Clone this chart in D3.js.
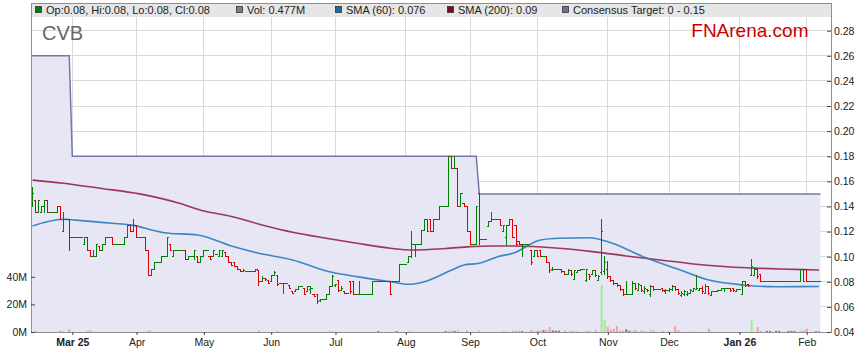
<!DOCTYPE html>
<html>
<head>
<meta charset="utf-8">
<script src="https://cdn.jsdelivr.net/npm/d3@7"></script>
<style>
  body { margin: 0; background: #fff; }
  svg { display: block; font-family: "Liberation Sans", Arial, sans-serif; }
</style>
</head>
<body>
<svg id="chart" width="859" height="363"></svg>
<script>
const firstDay = "2025-02-12";
const lastDay = "2026-02-06";

// one row per weekday, cents: [open, high, low, close]; a plain number = no trade (flat)
const bars = [
  [14,15.5,14,15],[14.5,14.5,13.5,13.5],[13.5,14.5,13.5,14.5],[13.5,14,13.5,14],[14,14.5,13.5,14.5],[14.5,14.5,13.5,13.5],13.5,13.5,[13.5,14,13.5,14],[14,14,13,13],
  [12,13.5,12,13],13,[13,13,10.5,11.5],11.5,11.5,11.5,11.5,[11,11.5,11,11.5],[11.5,11.5,10.5,10.5],[10.5,10.5,10,10],
  [10,10.5,10,10],[10,11,10,11],[10.8,10.8,10.5,10.5],[10.5,11,10.5,11],[11,11.5,11,11.5],11.5,[11.5,11.5,11,11],11,11,11,
  [11,11.5,11,11.5],[11.5,12.5,11.5,12.5],[12.5,12.5,12,12],[12,13,12,12.5],[12.5,12.5,11.5,11.5],11.5,11.5,[11.5,11.5,10.5,10.5],[10.5,10.5,8.5,8.5],[8.5,9,8.5,9],
  [9,9.5,9,9.5],9.5,[9.5,10,9.5,10],10,[10,11.5,10,11.5],[11,11,10.5,10.5],[10,10.5,10,10.5],10.5,10.5,10.5,
  [10.5,10.5,9.8,9.8],[9.8,10,9.8,10],10,[10,10.5,9.8,10.5],[10,10,9.5,9.5],[9.5,10,9.5,10],[10,10.5,10,10.5],10.5,[10,10,9.8,9.8],[10,10.5,10,10.5],
  10.2,[10,10.5,10,10.5],[10,10.5,10,10.5],[10.3,10.3,10,10],[10,10,9.5,9.5],[9.5,9.5,9.3,9.3],[9.5,9.5,9.2,9.2],[9.2,9.2,9,9],[9,9,8.8,8.8],[8.8,9,8.8,8.9],
  8.8,8.8,8.8,[8.8,9,8.8,9],[8.9,8.9,7.7,8],[8,8.4,8,8.3],[8.3,8.3,8.1,8.2],[8.1,8.1,7.9,7.9],[8,8.5,8,8.5],[8.5,8.8,8.5,8.7],
  [8.5,8.5,7.7,7.8],7.9,[7.9,7.9,7.1,7.9],7.9,[7.7,7.7,7.5,7.5],[7.2,7.2,7.1,7.1],[7.2,7.4,7.2,7.4],[7.4,7.6,7.4,7.6],7.6,[7.5,7.5,7,7],
  [7.2,7.6,7.2,7.6],[7.4,7.6,7.1,7.5],[7,7,6.8,6.8],[7,7,6.3,6.4],[6.5,6.6,6.4,6.6],6.6,[6.6,7,6.6,7],[7,7.6,7,7.6],[7.6,8.5,7.6,8.4],[7.7,7.8,7.6,7.8],
  [8.1,8.1,7.2,7.3],[7.3,7.6,7.3,7.5],[7.2,7.2,7.1,7.1],7.1,[8,8,7.1,7.2],[8,8,7,7],7,[7,8,7,7],7,7,
  7,[7,8,7,8],8,8,8,8,8,[8,8,7,7],8,8,
  [8,9.4,8,9.4],9.4,9.4,[9.5,10,9.5,10],[10,12,9.9,11],[11,11,10,11],11,[11,12.1,11,12.1],[12.1,13,12.1,13],[13,13,12,12],
  [13,13,12,12],[12,13,12,13],13,[13,14,13,14],14,14,[14,18,14,18],[18,18,17,17],[17,18,17,17],[17,17,14,14],
  [14,15,14,15],[14.2,14.2,14,14],[14,14,12,12],[12,12,11,11],11,[11,14,11,14],[15,15,11,11.4],11.4,11.4,[12.4,12.8,12.4,12.8],
  [12.8,13.5,12.8,13],13,13,[13,13,12.5,12.5],[12,12.5,12,12.5],[11.5,12.5,11,12.5],[12.5,13,12.5,13],[13,13,11.5,11.5],[12.5,12.5,11,11],[11.2,11.2,11,11],
  [11,11,10,11],11,11,[10.5,10.5,9.4,9.5],[10,10.5,10,10.5],[10.5,10.5,10,10],[10.5,10.5,10,10],10,[10,10,9.5,9.5],[9.5,9.5,8.7,8.9],
  [9,9.1,8.9,9],9,9,[9,9,8.7,8.8],[8.8,8.8,8.6,8.6],[8.6,9,8.6,8.9],[8.9,8.9,8.5,8.6],[8.2,8.9,8.2,8.9],[8.7,8.9,8.7,8.9],[8.9,9,8.9,9],
  9,[8.1,9,8,9],[8.6,8.6,8.2,8.4],[8.6,8.9,8.6,8.9],[8.9,8.9,8.4,8.5],[8.1,8.5,8.1,8.4],[8.7,13,8.6,12],[8.8,10,8.6,9.5],[9,9.6,8.3,8.4],[8.4,8.4,8,8.1],
  [8.1,8.1,7.8,7.9],[7.9,7.9,7.6,7.7],[7.7,7.7,7.3,7.4],[7.4,7.4,6.9,7],[7,8,7,7],7,[7,8,7,7.9],[7.9,7.9,7.4,7.5],[7.3,7.9,7.3,7.8],[7.7,7.7,7.2,7.3],
  [7.2,7.6,7.1,7.5],[7.4,7.4,7.2,7.3],[7,7.7,6.8,7.6],[7.6,7.6,7.3,7.4],7.4,7.4,[7.5,7.5,7.2,7.3],[7.2,7.4,7.1,7.3],[7.3,7.5,7.2,7.4],[7.4,7.7,7.3,7.6],
  [7.6,7.6,7.3,7.4],[7.4,7.4,7,7.1],[6.9,7.2,6.8,7.1],[7,7.3,6.9,7.2],[7,7.2,6.9,7.1],[7.1,7.4,7.1,7.3],[7.2,7.5,7.2,7.5],[7.4,8.5,7.4,7.5],[7.3,7.5,7.3,7.5],[7.5,7.6,7.1,7.2],
  [7.1,7.8,7.1,7.6],[7.6,7.6,7,7.1],[6.9,7.2,6.9,7.2],7.2,[7.2,7.3,7.2,7.3],[7.3,7.5,7.3,7.5],[7.5,7.5,7.2,7.5],7.5,[7.5,7.5,7.2,7.3],[7.5,7.5,7.2,7.3],
  [7.2,7.4,7.2,7.4],7.4,[7,8,7,8],[8,8,7.6,7.7],[7.8,7.8,7.6,7.7],[8.5,9.8,8.5,9.2],[8.5,9.1,8.5,9],[9,9,8.3,8.4],[8.6,8.6,8,8],8,
  8,8,8,8,8,8,8,8,8,8,
  8,[8,9,8,9],[9,9,8,8],[9,9,8,8],8,8,8,8
];

// volume (millions) on the days where a bar is visible
const volDay = [1,9,10,12,18,19,38,39,74,80,97,98,113,119,123,124,135,136,137,138,139,142,146,154,155,157,158,159,160,163,164,165,166,167,168,169,170,171,172,174,176,177,178,181,182,184,186,187,188,189,190,191,192,193,194,195,196,197,199,200,202,203,206,208,210,211,215,216,221,222,235,237,238,240,241,243,244,247,248,249,251,252,253,256,257];
const volM = [0.8,1,0.6,2,1,1,1,0.7,1,0.8,0.8,0.6,0.7,0.7,0.8,0.8,0.7,1,1,0.8,1,1,1,0.8,0.7,1,1,1,0.7,1.5,0.8,1,1,1.4,1.6,3.6,1.2,1,1,1,0.8,1,0.8,0.8,1,1.5,34,8.7,3.6,2,2.4,4.3,1,1,2,1,1,1.5,1,0.8,2,1,0.8,0.7,4.3,1.4,0.6,0.6,2.4,0.7,8.7,3.6,0.8,0.8,0.8,0.8,0.8,0.8,0.8,0.8,1,1.2,2.4,0.6,0.477];

// moving averages (day index, price)
const sma60Day = [0,10,16,26,32,43,54,65,74,85,96,106,117,123,128,137,141,146,152,157,166,172,182,189,200,211,221,232,243,257];
const sma60 = [0.1245,0.1298,0.1287,0.1266,0.1253,0.1191,0.1173,0.1085,0.1027,0.0974,0.0886,0.0841,0.0801,0.078,0.0801,0.0894,0.0934,0.0947,0.10,0.1027,0.1133,0.1147,0.1151,0.1111,0.0995,0.09,0.0814,0.0775,0.0761,0.0762];
const sma200Day = [0,10,22,35,48,55,65,75,85,96,106,117,124,135,143,150,157,172,183,194,205,216,227,238,249,257];
const sma200 = [0.161,0.1585,0.1545,0.150,0.1425,0.137,0.132,0.1253,0.1195,0.1147,0.1107,0.1067,0.1053,0.1065,0.108,0.1085,0.1085,0.1067,0.104,0.1006,0.0974,0.0942,0.092,0.0907,0.0899,0.0894];

// consensus target (upper bound) changes
const targetFrom = ["2025-02-12", "2025-03-03", "2025-09-04"];
const targetValue = [0.26, 0.18, 0.15];

const monthStarts = ["2025-03-01","2025-04-01","2025-05-01","2025-06-01","2025-07-01","2025-08-01","2025-09-01","2025-10-01","2025-11-01","2025-12-01","2026-01-01","2026-02-01"];
const monthLabels = ["Mar 25","Apr","May","Jun","Jul","Aug","Sep","Oct","Nov","Dec","Jan 26","Feb"];
const priceTicks = [0.04,0.06,0.08,0.10,0.12,0.14,0.16,0.18,0.20,0.22,0.24,0.26,0.28];
const volTicks = [0, 20, 40];

const svg = d3.select("#chart");
const plotL = 31, plotR = 831.5, plotT = 17, plotB = 332;

const parse = d3.timeParse("%Y-%m-%d");
const days = d3.timeDay
  .range(parse(firstDay), d3.timeDay.offset(parse(lastDay), 1))
  .filter((d) => d.getDay() !== 0 && d.getDay() !== 6);
const dayOf = (s) => {
  const t = parse(s);
  return days.findIndex((d) => d >= t);
};

const x = d3.scaleLinear().domain([-0.5, days.length - 0.5]).range([31, 820.5]);
const y = d3.scaleLinear().domain([0.04, 0.28]).range([332, 30.7]);
const yv = d3.scaleLinear().domain([0, 40]).range([332, 276.8]);

const ohlc = bars.map((b, i) => {
  const [o, h, l, c] = Array.isArray(b) ? b : [b, b, b, b];
  return { i, o: o / 100, h: h / 100, l: l / 100, c: c / 100 };
});

const targetIdx = targetFrom.map(dayOf);
const targetAt = (i) => targetValue[d3.bisectRight(targetIdx, i) - 1];
const consensus = [{ i: -0.5, v: targetValue[0] }]
  .concat(days.map((d, i) => ({ i, v: targetAt(i) })))
  .concat([{ i: days.length - 0.5, v: targetAt(days.length - 1) }]);

const monthIdx = monthStarts.map(dayOf);

// grid
const grid = svg.append("g").attr("stroke", "#d9d9d9").attr("shape-rendering", "crispEdges");
grid.selectAll(".h")
  .data(priceTicks.slice(1))
  .join("line")
  .attr("x1", plotL).attr("x2", plotR)
  .attr("y1", (d) => y(d)).attr("y2", (d) => y(d));
grid.selectAll(".v")
  .data(monthIdx)
  .join("line")
  .attr("x1", (d) => x(d)).attr("x2", (d) => x(d))
  .attr("y1", plotT).attr("y2", plotB);

// consensus target band
svg.append("path")
  .datum(consensus)
  .attr("fill", "#e6e6f5")
  .attr("d", d3.area().x((d) => x(d.i)).y0(plotB).y1((d) => y(d.v)));

// volume
const volColor = (i) => {
  const b = ohlc[i];
  if (b.c > b.o) return "#9cef8c";
  if (b.c < b.o) return "#ff9c9c";
  return "#7d7d7d";
};
svg.append("g")
  .selectAll("rect")
  .data(volDay.map((d, k) => ({ i: d, v: volM[k] })))
  .join("rect")
  .attr("x", (d) => x(d.i) - 1)
  .attr("width", 2)
  .attr("y", (d) => yv(d.v))
  .attr("height", (d) => plotB - yv(d.v))
  .attr("fill", (d) => volColor(d.i));

// moving averages
const smaLine = d3.line().x((d) => x(d[0])).y((d) => y(d[1])).curve(d3.curveMonotoneX);
svg.append("path")
  .datum(sma200Day.map((d, k) => [d, sma200[k]]))
  .attr("fill", "none").attr("stroke", "#8e1840").attr("stroke-width", 1.6).attr("stroke-opacity", 0.85)
  .attr("d", smaLine);
svg.append("path")
  .datum(sma60Day.map((d, k) => [d, sma60[k]]))
  .attr("fill", "none").attr("stroke", "#2b7bbd").attr("stroke-width", 1.6).attr("stroke-opacity", 0.9)
  .attr("d", smaLine);

// consensus line
svg.append("path")
  .datum(consensus)
  .attr("fill", "none").attr("stroke", "#7478ad").attr("stroke-width", 1.5)
  .attr("d", d3.line().x((d) => x(d.i)).y((d) => y(d.v)));

// OHLC bars
const half = 1.6;
svg.append("g")
  .attr("shape-rendering", "crispEdges")
  .attr("fill", "none")
  .selectAll("path")
  .data(ohlc)
  .join("path")
  .attr("stroke", (d) => (d.c >= d.o ? "#008000" : "#dd0000"))
  .attr("d", (d) => {
    const cx = x(d.i);
    return `M${cx},${y(d.h) - 0.5}V${y(d.l) + 0.5}` +
      `M${cx - half},${y(d.o)}H${cx}` +
      `M${cx},${y(d.c)}H${cx + half}`;
  });

// legend band and frame
svg.append("rect")
  .attr("x", plotL).attr("y", 3).attr("width", plotR - plotL).attr("height", plotT - 3)
  .attr("fill", "#e6e6e6");
const frame = svg.append("g").attr("stroke", "#8f8f8f").attr("shape-rendering", "crispEdges");
frame.append("line").attr("x1", plotL).attr("x2", plotR).attr("y1", 3).attr("y2", 3);
frame.append("line").attr("x1", plotL).attr("x2", plotL).attr("y1", 3).attr("y2", plotB);
frame.append("line").attr("x1", plotR).attr("x2", plotR).attr("y1", 3).attr("y2", plotB);
frame.append("line").attr("x1", plotL).attr("x2", plotR).attr("y1", plotB).attr("y2", plotB);

// legend
const last = ohlc[ohlc.length - 1];
const f2 = d3.format(".2f");
const legend = [
  { x: 35, color: "#008000", text: `Op:${f2(last.o)}, Hi:${f2(last.h)}, Lo:${f2(last.l)}, Cl:${f2(last.c)}` },
  { x: 236, color: "#808080", text: `Vol: ${volM[volM.length - 1]}M` },
  { x: 335, color: "#1f6aa5", text: `SMA (60): ${sma60[sma60.length - 1].toFixed(3)}` },
  { x: 447, color: "#7d0a2e", text: `SMA (200): ${f2(sma200[sma200.length - 1])}` },
  { x: 562, color: "#6a6ea6", text: `Consensus Target: 0 - ${f2(targetValue[targetValue.length - 1])}` },
];
const lg = svg.append("g").selectAll("g").data(legend).join("g")
  .attr("transform", (d) => `translate(${d.x},0)`);
lg.append("rect")
  .attr("x", 0.5).attr("y", 6.5).attr("width", 6).attr("height", 6)
  .attr("fill", (d) => d.color).attr("stroke", "#333").attr("stroke-width", 0.8);
lg.append("text")
  .attr("x", 11).attr("y", 13.8)
  .attr("font-size", 11).attr("fill", "#222")
  .text((d) => d.text);

// titles
svg.append("text").attr("x", 42).attr("y", 39.5)
  .attr("font-size", 20).attr("fill", "#666").text("CVB");
svg.append("text").attr("x", 808.5).attr("y", 36.5).attr("text-anchor", "end")
  .attr("font-size", 19).attr("fill", "#cc0000").text("FNArena.com");

// axes
function styleAxis(g) {
  g.select(".domain").remove();
  g.attr("font-family", '"Liberation Sans", Arial, sans-serif').attr("font-size", 10.5);
  g.selectAll("line").attr("stroke", "#444");
  g.selectAll("text").attr("fill", "#222");
}

svg.append("g")
  .attr("transform", `translate(${plotR - 0.5},0)`)
  .call(d3.axisRight(y).tickValues(priceTicks).tickSize(-4).tickPadding(3).tickFormat(f2))
  .call(styleAxis);

svg.append("g")
  .attr("transform", `translate(${plotL},0)`)
  .call(d3.axisLeft(yv).tickValues(volTicks).tickSize(-4).tickPadding(4).tickFormat((d) => d + "M"))
  .call(styleAxis);

svg.append("g")
  .attr("transform", `translate(0,${plotB})`)
  .call(d3.axisBottom(x).tickValues(monthIdx).tickSize(3).tickPadding(4)
    .tickFormat((d, k) => monthLabels[k]))
  .call(styleAxis)
  .selectAll("text")
  .attr("font-weight", (d, k) => (monthLabels[k].includes(" ") ? "bold" : null));
</script>
</body>
</html>
